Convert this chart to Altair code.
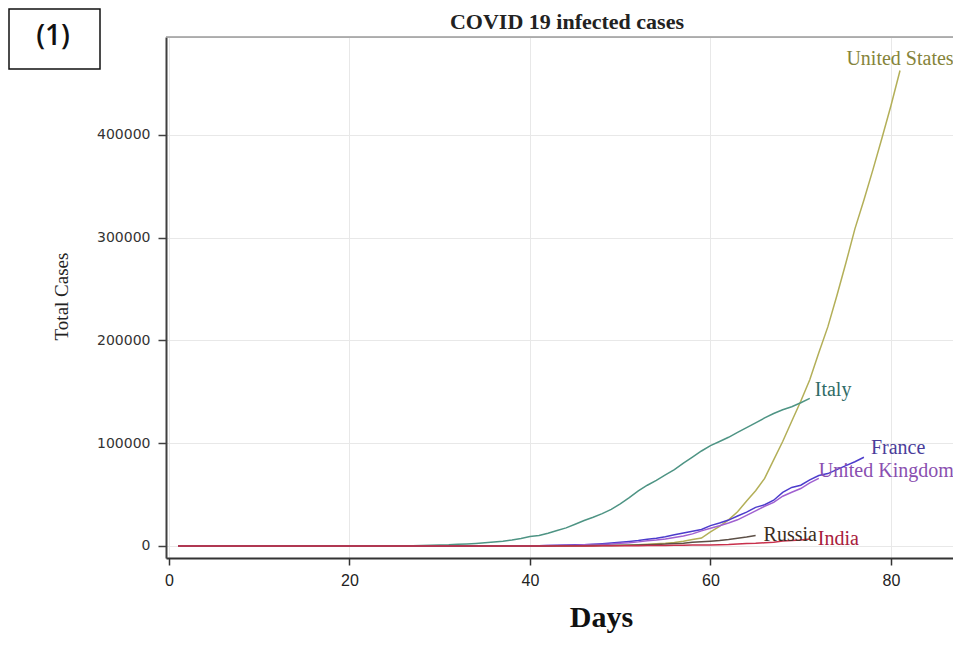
import altair as alt
import pandas as pd

countries = ["United States", "Italy", "France", "United Kingdom", "Russia", "India"]
line_colors = ["#b3af58", "#4e9484", "#4c3ccc", "#a060d0", "#5c4f46", "#c8304c"]
label_colors = ["#85843a", "#2f6b66", "#4a3d9a", "#8a4fb0", "#3b2e22", "#a8203c"]

x_ticks = [0, 20, 40, 60, 80]
y_ticks = [0, 100000, 200000, 300000, 400000]

us_cases = [
    1, 1, 1, 1, 2, 2, 5, 5, 5, 5,
    6, 7, 8, 11, 11, 11, 12, 12, 12, 12,
    12, 13, 13, 14, 14, 14, 14, 14, 14, 15,
    15, 15, 15, 15, 35, 35, 35, 53, 57, 60,
    68, 74, 98, 118, 149, 217, 262, 402, 518, 583,
    959, 1281, 1663, 2179, 2727, 3499, 4632, 6421, 7786, 13680,
    19101, 25493, 33276, 43847, 53740, 65778, 83836, 101657, 121465, 140909,
    161831, 188172, 213242, 243622, 275367, 308650, 336802, 366317, 397121, 428654,
    462780,
]
italy_cases = [
    0, 2, 2, 2, 2, 2, 2, 2, 3, 3,
    3, 3, 3, 3, 3, 3, 3, 3, 3, 3,
    3, 3, 20, 62, 155, 229, 322, 453, 655, 888,
    1128, 1694, 2036, 2502, 3089, 3858, 4636, 5883, 7375, 9172,
    10149, 12462, 15113, 17660, 21157, 24747, 27980, 31506, 35713, 41035,
    47021, 53578, 59138, 63927, 69176, 74386, 80589, 86498, 92472, 97689,
    101739, 105792, 110574, 115242, 119827, 124632, 128948, 132547, 135586, 139422,
    143626,
]
france_cases = [
    2, 3, 3, 3, 4, 5, 5, 5, 6, 6,
    6, 6, 6, 6, 6, 11, 11, 11, 11, 11,
    11, 11, 12, 12, 12, 12, 12, 12, 12, 12,
    12, 12, 14, 18, 38, 57, 100, 130, 191, 204,
    288, 380, 656, 957, 1134, 1217, 1792, 2289, 2900, 3672,
    4480, 5400, 6650, 7652, 9043, 10871, 12612, 14282, 16018, 19856,
    22304, 25233, 29155, 32964, 37575, 40174, 44550, 52128, 56989, 59105,
    64338, 68605, 70478, 74390, 78167, 82048, 86334,
]
uk_cases = [
    0, 0, 2, 2, 2, 2, 2, 2, 2, 3,
    3, 3, 8, 8, 9, 9, 9, 9, 9, 9,
    9, 9, 9, 9, 9, 9, 13, 13, 13, 15,
    20, 23, 36, 40, 51, 85, 115, 163, 206, 273,
    321, 382, 459, 620, 802, 1144, 1350, 1551, 1960, 2642,
    3200, 4014, 5067, 5745, 6726, 8164, 9640, 11812, 14745, 17312,
    19780, 22453, 25481, 29865, 34173, 38689, 42477, 48436, 52279, 55949,
    61474, 65872,
]
russia_cases = [
    2, 2, 2, 2, 2, 2, 2, 2, 2, 2,
    2, 2, 2, 2, 2, 2, 2, 2, 2, 2,
    2, 2, 2, 2, 2, 2, 3, 3, 3, 4,
    13, 13, 17, 17, 20, 20, 28, 45, 59, 63,
    90, 114, 147, 199, 253, 306, 367, 438, 495, 658,
    840, 1036, 1264, 1534, 1836, 2337, 2777, 3548, 4149, 4731,
    5389, 6343, 7497, 8672, 10131,
]
india_cases = [
    1, 1, 1, 2, 3, 3, 3, 3, 3, 3,
    3, 3, 3, 3, 3, 3, 3, 3, 3, 3,
    3, 3, 3, 3, 3, 3, 3, 3, 3, 3,
    3, 3, 5, 5, 28, 30, 31, 34, 39, 43,
    56, 62, 73, 82, 102, 113, 119, 142, 156, 194,
    244, 330, 396, 499, 536, 657, 727, 887, 987, 1024,
    1251, 1397, 1998, 2543, 2567, 3082, 3588, 4778, 5311, 5916,
    6725,
]

series = [us_cases, italy_cases, france_cases, uk_cases, russia_cases, india_cases]

rows = []
for name, vals in zip(countries, series):
    for i, v in enumerate(vals):
        rows.append({"country": name, "day": i + 1, "cases": v,
                     "last": i == len(vals) - 1})
df = pd.DataFrame(rows)

W, H = 787, 521
X = alt.X(
    "day:Q",
    scale=alt.Scale(domain=[-0.332, 86.87], nice=False, zero=False),
    axis=alt.Axis(
        values=x_ticks, grid=True, gridColor="#e8e8e8", gridWidth=1,
        domainColor="#333333", domainWidth=2,
        tickColor="#333333", tickSize=7, tickWidth=1.5,
        labelFont="Liberation Sans", labelFontSize=16, labelColor="#222222",
        labelPadding=7,
        title="Days", titleFont="Liberation Serif", titleFontSize=30,
        titleFontWeight="bold", titleColor="#111111",
        titleX=435, titleY=68, titleAlign="center", titleBaseline="alphabetic",
    ),
)
Y = alt.Y(
    "cases:Q",
    scale=alt.Scale(domain=[-11679, 495377], nice=False, zero=False),
    axis=alt.Axis(
        values=y_ticks, format="d", grid=True, gridColor="#e8e8e8", gridWidth=1,
        domainColor="#404040", domainWidth=2,
        tickColor="#404040", tickSize=8, tickWidth=1.5,
        labelFont="DejaVu Sans", labelFontSize=14, labelColor="#333333",
        labelPadding=8,
        title="Total Cases", titleFont="Liberation Serif", titleFontSize=19,
        titleFontWeight="normal", titleColor="#222222",
        titleAngle=270, titleX=-105, titleY=259,
        titleAlign="center", titleBaseline="middle",
    ),
)

base = alt.Chart(df).encode(x=X, y=Y)

lines = base.mark_line(strokeWidth=1.5).encode(
    color=alt.Color("country:N",
                    scale=alt.Scale(domain=countries, range=line_colors),
                    legend=None),
    detail="country:N",
)

label_style = {
    "United States": dict(align="center", dx=0, dy=-5),
    "Italy": dict(align="left", dx=5, dy=-2),
    "France": dict(align="left", dx=7, dy=-3),
    "United Kingdom": dict(align="left", dx=0, dy=-1),
    "Russia": dict(align="left", dx=8, dy=5),
    "India": dict(align="left", dx=8, dy=6),
}
label_layers = []
for name, col in zip(countries, label_colors):
    st = label_style[name]
    label_layers.append(
        base.transform_filter(
            (alt.datum.country == name) & alt.datum.last
        ).mark_text(
            font="Liberation Serif", fontSize=20, color=col,
            baseline="alphabetic", **st
        ).encode(text="country:N")
    )

one = pd.DataFrame({"label": ["(1)"]})
title_df = pd.DataFrame({"label": ["COVID 19 infected cases"]})

top_rule = alt.Chart(one).mark_rule(color="#9a9a9a", strokeWidth=1.5).encode(
    x=alt.value(0), x2=alt.value(W), y=alt.value(0)
)
box = alt.Chart(one).mark_rect(fill="white", stroke="#111111", strokeWidth=1.5).encode(
    x=alt.value(-157), x2=alt.value(-66), y=alt.value(-28), y2=alt.value(32)
)
box_text = alt.Chart(one).mark_text(
    font="Open Sans", fontSize=28, fontWeight=600, color="#111111",
    align="center", baseline="middle",
).encode(text="label:N", x=alt.value(-113), y=alt.value(0))
title_text = alt.Chart(title_df).mark_text(
    font="Liberation Serif", fontSize=22, fontWeight="bold", color="#222222",
    align="center", baseline="alphabetic",
).encode(text="label:N", x=alt.value(401), y=alt.value(-8))

chart = alt.layer(
    lines, *label_layers, top_rule, box, box_text, title_text
).properties(
    width=W, height=H,
    autosize=alt.AutoSizeParams(type="none"),
    padding={"left": 158, "top": 29, "right": 0, "bottom": 76},
).configure_view(strokeWidth=0).configure(background="white")

chart.save("out.html", embed_options={"renderer": "svg", "actions": False})
